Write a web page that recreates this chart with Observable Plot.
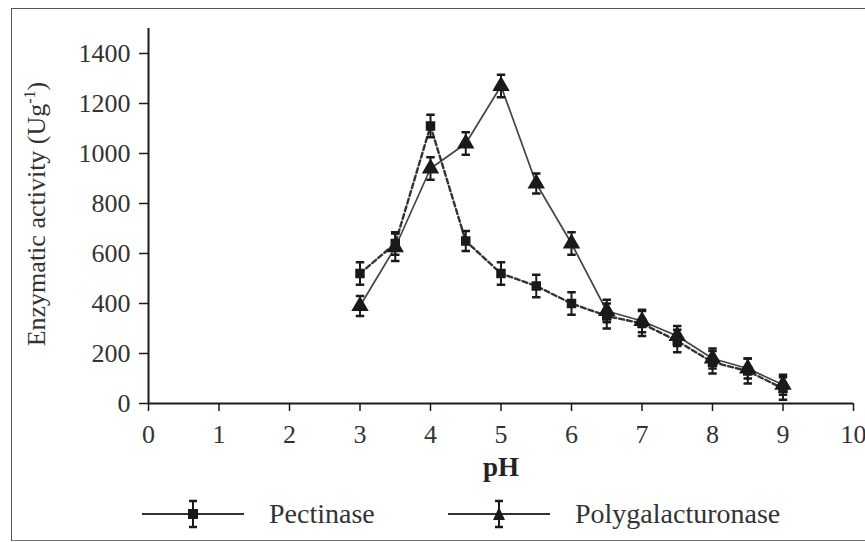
<!DOCTYPE html>
<html>
<head>
<meta charset="utf-8">
<script src="https://cdn.jsdelivr.net/npm/d3@7"></script>
<script src="https://cdn.jsdelivr.net/npm/@observablehq/plot@0.6"></script>
<style>
  html, body { margin: 0; padding: 0; background: #fff; overflow: hidden; width: 865px; height: 542px; }
  #frame { position: absolute; left: 11px; top: 8px; width: 900px; height: 531px;
           border-top: 1.5px solid #555; border-left: 1.5px solid #555; border-bottom: 1.5px solid #777; }
  #chart { position: absolute; left: 0; top: 0; }
  #legend { position: absolute; left: 0; top: 494px; width: 865px; height: 40px;
            font-family: "Liberation Serif", serif; font-size: 28px; color: #333; }
  .item { position: absolute; top: 0; display: flex; align-items: center; height: 40px; white-space: nowrap; }
  .item span { margin-left: 25px; }
</style>
</head>
<body>
<div id="frame"></div>
<div id="chart"></div>
<div id="legend"></div>
<script>
// Data
const pH = [3, 3.5, 4, 4.5, 5, 5.5, 6, 6.5, 7, 7.5, 8, 8.5, 9];
const pectinase = [520, 640, 1110, 650, 520, 470, 400, 350, 320, 250, 165, 130, 60];
const pectinaseErr = [45, 45, 45, 40, 45, 45, 45, 50, 50, 45, 45, 50, 45];
const polygalacturonase = [390, 625, 940, 1040, 1270, 880, 640, 370, 330, 270, 180, 140, 75];
const polygalacturonaseErr = [40, 55, 45, 45, 45, 40, 45, 45, 45, 40, 40, 40, 40];
const xTicks = [0, 1, 2, 3, 4, 5, 6, 7, 8, 9, 10];
const yTicks = [0, 200, 400, 600, 800, 1000, 1200, 1400];
const seriesNames = ["Pectinase", "Polygalacturonase"];

const pec = pH.map((x, i) => ({x, y: pectinase[i], e: pectinaseErr[i]}));
const pg = pH.map((x, i) => ({x, y: polygalacturonase[i], e: polygalacturonaseErr[i]}));
const cap = 0.06;
const ink = "#1a1a1a";

function errorMarks(data) {
  return [
    Plot.ruleX(data, {x: "x", y1: d => d.y - d.e, y2: d => d.y + d.e, stroke: ink, strokeWidth: 2}),
    Plot.link(data, {x1: d => d.x - cap, x2: d => d.x + cap, y1: d => d.y + d.e, y2: d => d.y + d.e, stroke: ink, strokeWidth: 2.5}),
    Plot.link(data, {x1: d => d.x - cap, x2: d => d.x + cap, y1: d => d.y - d.e, y2: d => d.y - d.e, stroke: ink, strokeWidth: 2.5})
  ];
}

const plot = Plot.plot({
  width: 865,
  height: 490,
  marginLeft: 148,
  marginRight: 12,
  marginTop: 28,
  marginBottom: 87,
  style: {fontFamily: "Liberation Serif, serif", fontSize: "26px", color: "#333", background: "transparent"},
  x: {domain: [0, 10], label: null},
  y: {domain: [0, 1500], label: null},
  marks: [
    Plot.axisX({ticks: xTicks, tickSize: 8, tickPadding: 13, fontSize: 26, tickFormat: d => String(d), stroke: ink, strokeWidth: 1.5, fill: "#333"}),
    Plot.axisY({ticks: yTicks, tickSize: 9, tickPadding: 9, fontSize: 26, tickFormat: d => String(d), stroke: ink, strokeWidth: 1.5, fill: "#333"}),
    Plot.ruleY([0], {stroke: ink, strokeWidth: 2}),
    Plot.ruleX([0], {y1: 0, y2: 1500, stroke: ink, strokeWidth: 2}),
    Plot.line(pg, {x: "x", y: "y", stroke: "#444", strokeWidth: 1.7}),
    Plot.line(pec, {x: "x", y: "y", stroke: "#333", strokeWidth: 2.4, strokeDasharray: "5,3"}),
    ...errorMarks(pg),
    ...errorMarks(pec),
    Plot.dot(pg, {x: "x", y: "y", symbol: "triangle", r: 5.5, fill: ink, stroke: ink}),
    Plot.dot(pec, {x: "x", y: "y", symbol: "square", r: 4.5, fill: ink, stroke: ink}),
    Plot.text(["pH"], {frameAnchor: "bottom", dy: 72, fontWeight: "bold", fontSize: 27, fill: "#222"})
  ]
});
document.getElementById("chart").appendChild(plot);

// Y-axis title with superscript
const svg = d3.select(plot);
const yl = svg.append("text")
  .attr("transform", "translate(45,214) rotate(-90)")
  .attr("text-anchor", "middle")
  .attr("font-family", "Liberation Serif, serif")
  .attr("font-size", 26)
  .attr("fill", "#333");
yl.append("tspan").text("Enzymatic activity (Ug");
yl.append("tspan").attr("font-size", 16).attr("dy", -10).text("-1");
yl.append("tspan").attr("dy", 10).text(")");

// Legend
const legend = document.getElementById("legend");
const legendPos = [142, 448];
seriesNames.forEach((name, i) => {
  const div = document.createElement("div");
  div.className = "item";
  div.style.left = legendPos[i] + "px";
  const sym = i === 0
    ? `<rect x="46" y="15" width="10" height="10" fill="${ink}"/>`
    : `<path d="M51,13 L57,26 L45,26 Z" fill="${ink}"/>`;
  div.innerHTML = `<svg width="102" height="40">
      <line x1="0" x2="102" y1="20" y2="20" stroke="#333" stroke-width="1.8"/>
      <line x1="51" x2="51" y1="7" y2="33" stroke="${ink}" stroke-width="2"/>
      <line x1="47" x2="55" y1="7" y2="7" stroke="${ink}" stroke-width="2.5"/>
      <line x1="47" x2="55" y1="33" y2="33" stroke="${ink}" stroke-width="2.5"/>
      ${sym}</svg><span>${name}</span>`;
  legend.appendChild(div);
});
</script>
</body>
</html>
